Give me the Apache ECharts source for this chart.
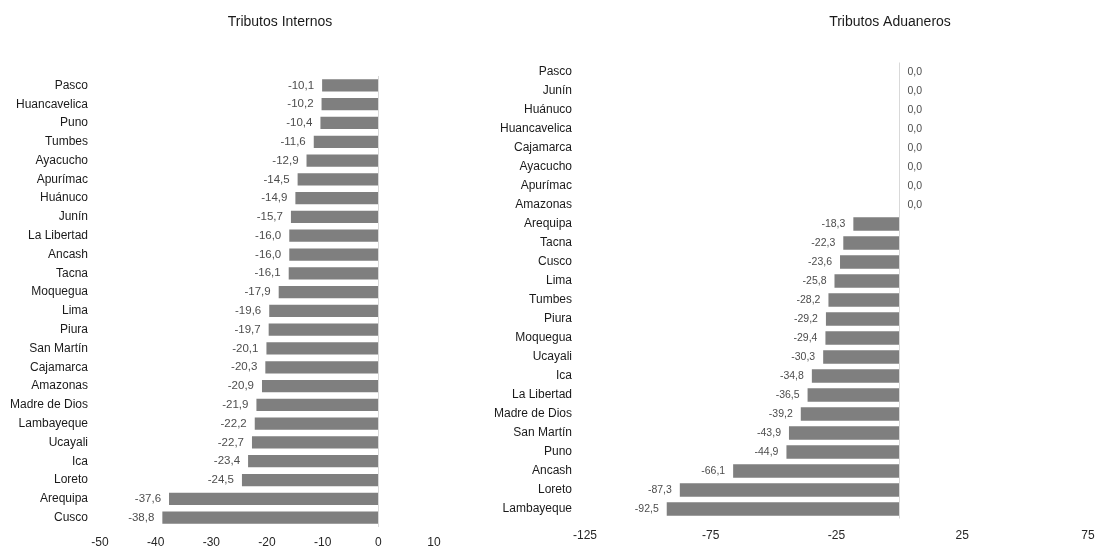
<!DOCTYPE html>
<html>
<head>
<meta charset="utf-8">
<script src="https://cdn.jsdelivr.net/npm/echarts@6/dist/echarts.min.js"></script>
<style>
html,body{margin:0;padding:0;background:#fff;}
#c{width:1098px;height:549px;}
</style>
</head>
<body>
<div id="c"></div>
<script>
const leftTitle = 'Tributos Internos';
const rightTitle = 'Tributos Aduaneros';

const leftCategories = ['Pasco','Huancavelica','Puno','Tumbes','Ayacucho','Apurímac','Huánuco','Junín','La Libertad','Ancash','Tacna','Moquegua','Lima','Piura','San Martín','Cajamarca','Amazonas','Madre de Dios','Lambayeque','Ucayali','Ica','Loreto','Arequipa','Cusco'];
const leftValues = [-10.1,-10.2,-10.4,-11.6,-12.9,-14.5,-14.9,-15.7,-16.0,-16.0,-16.1,-17.9,-19.6,-19.7,-20.1,-20.3,-20.9,-21.9,-22.2,-22.7,-23.4,-24.5,-37.6,-38.8];
const leftTicks = [-50,-40,-30,-20,-10,0,10];

const rightCategories = ['Pasco','Junín','Huánuco','Huancavelica','Cajamarca','Ayacucho','Apurímac','Amazonas','Arequipa','Tacna','Cusco','Lima','Tumbes','Piura','Moquegua','Ucayali','Ica','La Libertad','Madre de Dios','San Martín','Puno','Ancash','Loreto','Lambayeque'];
const rightValues = [0,0,0,0,0,0,0,0,-18.3,-22.3,-23.6,-25.8,-28.2,-29.2,-29.4,-30.3,-34.8,-36.5,-39.2,-43.9,-44.9,-66.1,-87.3,-92.5];
const rightTicks = [-125,-75,-25,25,75];

const FONT = '"Liberation Sans", Arial, sans-serif';

function fmt(v){ return v.toFixed(1).replace('.', ','); }
function items(vals){
  return vals.map(v => ({
    value: v,
    label: { position: v < 0 ? 'left' : 'right' }
  }));
}

const chart = echarts.init(document.getElementById('c'), null, {renderer:'canvas'});

function xAxisCfg(gi, min, max, ticks, margin){
  return {
    type: 'value', gridIndex: gi, min: min, max: max,
    axisLine: {show:false}, axisTick: {show:false}, splitLine: {show:false},
    axisLabel: { customValues: ticks, margin: margin, color:'#262626', fontSize: 12, fontFamily: FONT }
  };
}
function yAxisCfg(gi, cats, margin){
  return {
    type: 'category', gridIndex: gi, data: cats, inverse: true,
    axisLine: {show:false}, axisTick: {show:false}, splitLine: {show:false},
    axisLabel: { margin: margin, color:'#1a1a1a', fontSize: 12, fontFamily: FONT, interval: 0 }
  };
}
function seriesCfg(gi, vals, bw, fs, dist){
  return {
    type: 'bar', xAxisIndex: gi, yAxisIndex: gi,
    data: items(vals),
    barWidth: bw,
    itemStyle: { color: '#7f7f7f' },
    label: { show: true, distance: dist, color: '#4d4d4d', fontSize: fs, fontFamily: FONT,
      formatter: p => fmt(p.value) },
    markLine: {
      silent: true, symbol: 'none', label: {show:false},
      lineStyle: { color: '#d9d9d9', type: 'solid', width: 1 },
      data: [{ xAxis: 0 }], animation: false
    },
    animation: false
  };
}

chart.setOption({
  animation: false,
  grid: [
    { left: 100, right: 664, top: 76, height: 451 },
    { left: 585, right: 10, top: 62.5, height: 456 }
  ],
  xAxis: [ xAxisCfg(0, -50, 10, leftTicks, 10), xAxisCfg(1, -125, 75, rightTicks, 11) ],
  yAxis: [ yAxisCfg(0, leftCategories, 12), yAxisCfg(1, rightCategories, 13) ],
  series: [ seriesCfg(0, leftValues, '65%', 11.5, 8), seriesCfg(1, rightValues, '70%', 10.5, 8) ],
  graphic: [
    { type: 'text', x: 280, y: 15, style: { text: leftTitle, textAlign: 'center', fill: '#1a1a1a', font: '14px ' + FONT } },
    { type: 'text', x: 890, y: 15, style: { text: rightTitle, textAlign: 'center', fill: '#1a1a1a', font: '14px ' + FONT } }
  ]
});
</script>
</body>
</html>
